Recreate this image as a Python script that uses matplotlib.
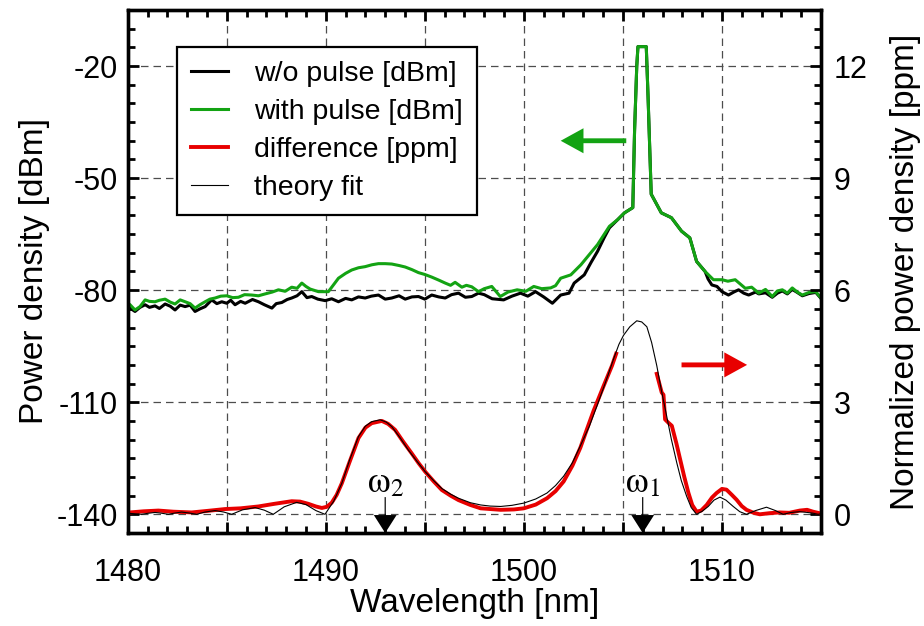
import numpy as np
import matplotlib.pyplot as plt
from matplotlib.ticker import MultipleLocator, FuncFormatter

plt.rcParams['font.family'] = ['Liberation Sans', 'DejaVu Sans']
plt.rcParams['mathtext.fontset'] = 'stix'
plt.rcParams['axes.unicode_minus'] = False

GREEN = '#13a313'
RED = '#e80000'

# spectrum without pulse [dBm]
wl_off = [1480.0, 1480.12, 1480.37, 1480.62, 1480.88, 1481.1, 1481.38, 1481.6, 1481.89, 1482.15,
          1482.39, 1482.65, 1482.9, 1483.15, 1483.4, 1483.65, 1483.91, 1484.24, 1484.5, 1484.75,
          1485.0, 1485.2, 1485.42, 1485.7, 1485.93, 1486.3, 1486.6, 1486.9, 1487.28, 1487.5,
          1487.78, 1488.05, 1488.28, 1488.55, 1488.79, 1489.05, 1489.29, 1489.6, 1489.97, 1490.3,
          1490.64, 1491.0, 1491.31, 1491.65, 1491.99, 1492.3, 1492.66, 1493.0, 1493.33, 1493.7,
          1494.01, 1494.35, 1494.68, 1495.0, 1495.35, 1495.7, 1496.03, 1496.35, 1496.7, 1497.05,
          1497.37, 1497.71, 1498.0, 1498.4, 1498.98, 1499.4, 1499.83, 1500.2, 1500.59, 1501.0,
          1501.44, 1501.86, 1502.28, 1502.54, 1503.05, 1503.4, 1503.72, 1504.05, 1504.32, 1504.74,
          1505.08, 1505.5, 1505.59, 1505.7, 1505.76, 1506.18, 1506.27, 1506.43, 1506.94, 1507.45,
          1507.96, 1508.38, 1508.72, 1509.15, 1509.3, 1509.49, 1509.75, 1510.0, 1510.33, 1510.6,
          1510.84, 1511.1, 1511.35, 1511.7, 1511.86, 1512.2, 1512.54, 1512.8, 1513.05, 1513.3,
          1513.55, 1513.8, 1514.06, 1514.4, 1514.74, 1515.0]
p_off = [-84.5, -84.8, -85.7, -84.6, -83.9, -84.6, -84.2, -84.9, -83.7, -84.3,
         -85.3, -84.0, -84.4, -84.0, -85.7, -85.0, -84.4, -82.6, -83.6, -83.1,
         -83.5, -82.7, -83.9, -83.0, -83.5, -82.5, -83.1, -83.9, -84.8, -83.6,
         -83.3, -82.5, -82.1, -81.5, -80.4, -82.0, -81.7, -82.4, -82.8, -82.3,
         -83.1, -82.2, -82.6, -81.8, -82.1, -81.6, -81.3, -82.4, -82.1, -81.5,
         -82.4, -81.8, -81.7, -82.4, -81.3, -81.8, -82.1, -81.2, -80.8, -81.9,
         -81.7, -80.8, -81.2, -82.3, -82.6, -81.6, -80.8, -81.6, -80.4, -81.8,
         -83.5, -81.3, -80.8, -78.1, -75.9, -72.5, -69.6, -66.0, -63.3, -61.1,
         -59.3, -57.9, -37.2, -20.0, -14.8, -14.8, -28.2, -54.3, -59.3, -60.6,
         -64.2, -66.0, -72.3, -75.0, -77.0, -78.6, -79.0, -80.4, -81.3, -80.5,
         -79.9, -80.8, -81.3, -80.5, -81.0, -80.7, -81.9, -80.8, -80.2, -81.0,
         -79.8, -80.6, -81.5, -80.9, -80.6, -82.2]

# spectrum with pulse [dBm]
wl_on = [1480.0, 1480.12, 1480.37, 1480.62, 1480.88, 1481.1, 1481.38, 1481.6, 1481.89, 1482.15,
         1482.39, 1482.65, 1482.9, 1483.15, 1483.4, 1483.65, 1483.91, 1484.15, 1484.41, 1484.7,
         1485.0, 1485.3, 1485.59, 1485.9, 1486.26, 1486.6, 1486.94, 1487.3, 1487.61, 1487.95,
         1488.28, 1488.55, 1488.79, 1489.0, 1489.21, 1489.63, 1490.13, 1490.4, 1490.64, 1491.0,
         1491.31, 1491.65, 1491.99, 1492.33, 1492.66, 1493.0, 1493.33, 1493.7, 1494.01, 1494.35,
         1494.68, 1495.0, 1495.35, 1495.7, 1496.03, 1496.3, 1496.53, 1496.87, 1497.1, 1497.37,
         1497.71, 1498.0, 1498.38, 1498.81, 1499.2, 1499.66, 1500.1, 1500.5, 1500.9, 1501.35,
         1501.6, 1501.86, 1502.37, 1502.88, 1503.3, 1503.72, 1504.32, 1504.74, 1505.08, 1505.5,
         1505.59, 1505.7, 1505.76, 1506.18, 1506.27, 1506.43, 1506.94, 1507.45, 1507.96, 1508.38,
         1508.72, 1509.15, 1509.57, 1510.0, 1510.3, 1510.67, 1511.18, 1511.5, 1511.86, 1512.2,
         1512.54, 1512.8, 1513.05, 1513.3, 1513.55, 1513.8, 1514.06, 1514.4, 1514.74, 1515.0]
p_on = [-83.5, -83.9, -85.3, -84.4, -82.6, -83.0, -83.1, -82.7, -82.4, -83.2,
        -83.7, -82.6, -83.1, -83.6, -84.8, -83.9, -83.1, -82.4, -82.1, -81.6,
        -81.5, -82.0, -81.9, -81.2, -81.3, -81.5, -81.0, -80.5, -79.9, -80.3,
        -79.2, -79.5, -78.1, -79.0, -79.7, -80.4, -80.4, -78.5, -76.8, -75.5,
        -74.6, -74.0, -73.7, -73.2, -72.9, -72.9, -73.0, -73.4, -73.8, -74.5,
        -75.3, -75.8, -76.5, -77.3, -78.1, -78.7, -77.9, -79.2, -78.7, -79.1,
        -80.4, -79.6, -79.0, -81.7, -80.5, -79.9, -80.3, -79.0, -79.6, -79.4,
        -78.8, -76.8, -75.9, -73.2, -70.5, -67.8, -62.9, -61.1, -59.3, -57.9,
        -37.2, -20.0, -14.8, -14.8, -28.2, -54.3, -59.3, -60.6, -64.2, -66.0,
        -72.3, -75.0, -77.2, -77.2, -77.6, -77.2, -79.5, -79.2, -80.8, -79.8,
        -81.7, -80.2, -79.9, -80.8, -79.4, -80.5, -81.3, -80.6, -80.4, -82.1]

# measured difference [ppm], gap around the probe line
wl_diff = [1480.0, 1480.12, 1480.8, 1481.55, 1482.3, 1483.23, 1484.0, 1484.91, 1485.7, 1486.6,
           1487.4, 1488.28, 1488.7, 1489.12, 1489.5, 1489.8, 1490.05, 1490.3, 1490.55, 1490.81,
           1491.2, 1491.65, 1492.0, 1492.32, 1492.83, 1493.15, 1493.5, 1493.9, 1494.34, 1494.7,
           1495.02, 1495.45, 1495.86, 1496.3, 1496.7, 1497.3, 1497.82, 1498.83, 1499.5, 1500.0,
           1500.6, 1501.17, 1501.6, 1502.01, 1502.45, 1502.85, 1503.2, 1503.52, 1504.03, 1504.45,
           1504.66, 1505.5,
           1506.71, 1506.96, 1507.05, 1507.13, 1507.3, 1507.47, 1507.7, 1507.89, 1508.1, 1508.31,
           1508.5, 1508.72, 1508.95, 1509.23, 1509.5, 1509.73, 1510.0, 1510.23, 1510.5, 1510.74,
           1511.0, 1511.24, 1511.6, 1511.91, 1512.4, 1512.92, 1513.4, 1513.93, 1514.3, 1514.6,
           1515.0]
ppm_diff = [0.03, 0.05, 0.08, 0.10, 0.07, 0.05, 0.09, 0.14, 0.16, 0.21,
            0.28, 0.35, 0.34, 0.28, 0.21, 0.17, 0.20, 0.31, 0.52, 0.83,
            1.40, 2.04, 2.32, 2.44, 2.50, 2.42, 2.26, 1.95, 1.63, 1.36,
            1.14, 0.88, 0.65, 0.50, 0.38, 0.25, 0.16, 0.12, 0.13, 0.16,
            0.26, 0.43, 0.62, 0.88, 1.30, 1.78, 2.30, 2.77, 3.44, 3.98,
            4.30, np.nan,
            3.76, 3.26, 3.20, 2.54, 2.45, 2.37, 1.90, 1.47, 1.00, 0.57,
            0.25, 0.07, 0.10, 0.25, 0.45, 0.57, 0.68, 0.66, 0.52, 0.39,
            0.22, 0.12, 0.04, 0.00, 0.03, 0.05, 0.04, 0.10, 0.12, 0.07,
            0.02]

# theory fit [ppm]
wl_fit = [1480.0, 1480.35, 1480.7, 1481.0, 1481.38, 1481.7, 1482.05, 1482.35, 1482.72, 1483.1,
          1483.48, 1483.9, 1484.41, 1484.85, 1485.25, 1485.8, 1486.43, 1486.9, 1487.35, 1487.9,
          1488.53, 1489.0, 1489.5, 1489.96, 1490.4, 1490.81, 1491.2, 1491.65, 1492.0, 1492.32,
          1492.74, 1493.05, 1493.33, 1493.75, 1494.17, 1494.6, 1495.02, 1495.45, 1495.86, 1496.3,
          1496.7, 1497.3, 1497.82, 1498.3, 1498.83, 1499.4, 1500.0, 1500.6, 1501.17, 1501.6,
          1502.01, 1502.45, 1502.85, 1503.3, 1503.69, 1504.1, 1504.53, 1504.8, 1505.03, 1505.35,
          1505.7, 1505.95, 1506.21, 1506.45, 1506.71, 1506.95, 1507.21, 1507.45, 1507.72, 1507.95,
          1508.22, 1508.45, 1508.72, 1509.0, 1509.31, 1509.6, 1509.9, 1510.2, 1510.57, 1510.9,
          1511.24, 1511.7, 1512.25, 1512.7, 1513.09, 1513.5, 1513.93, 1514.3, 1514.6, 1514.85,
          1515.0]
ppm_fit = [0.03, 0.015, 0.0, 0.025, 0.05, 0.03, 0.0, 0.03, 0.06, 0.035,
           0.0, 0.06, 0.10, 0.06, 0.0, 0.12, 0.18, 0.11, 0.0, 0.20,
           0.32, 0.26, 0.10, 0.0, 0.35, 0.83, 1.45, 2.08, 2.36, 2.48,
           2.53, 2.47, 2.35, 2.05, 1.72, 1.42, 1.14, 0.90, 0.69, 0.54,
           0.43, 0.31, 0.25, 0.22, 0.21, 0.24, 0.30, 0.41, 0.57, 0.77,
           1.02, 1.38, 1.83, 2.35, 2.90, 3.50, 4.16, 4.55, 4.79, 5.02,
           5.18, 5.15, 5.02, 4.60, 3.98, 3.30, 2.63, 2.00, 1.38, 0.90,
           0.48, 0.18, 0.0, 0.08, 0.21, 0.38, 0.46, 0.38, 0.21, 0.07,
           0.0, 0.10, 0.19, 0.10, 0.0, 0.05, 0.07, 0.05, 0.03, 0.0,
           0.01]

# marked frequencies (wavelength of pump / probe)
omega_labels = [r'$\mathrm{\omega}_2$', r'$\mathrm{\omega}_1$']
omega_wl = [1493.0, 1506.0]

fig = plt.figure(figsize=(9.24, 6.26), dpi=100)
ax = fig.add_axes([0.1382, 0.1486, 0.7503, 0.8354])
ax2 = ax.twinx()

l1, = ax.plot(wl_off, p_off, color='k', lw=2.2, label='w/o pulse [dBm]')
l2, = ax.plot(wl_on, p_on, color=GREEN, lw=2.2, label='with pulse [dBm]')
l3, = ax2.plot(wl_diff, ppm_diff, color=RED, lw=2.8, label='difference [ppm]')
l4, = ax2.plot(wl_fit, ppm_fit, color='k', lw=0.8, label='theory fit')

ax.set_xlim(1480, 1515)
ax.set_ylim(-145, -5)
ax2.set_ylim(-0.5, 13.5)

ax.xaxis.set_major_locator(MultipleLocator(5))
ax.xaxis.set_minor_locator(MultipleLocator(1))
ax.xaxis.set_major_formatter(FuncFormatter(lambda v, p: '%d' % v if v % 10 == 0 else ''))
ax.set_yticks([-140, -110, -80, -50, -20])
ax.yaxis.set_minor_locator(MultipleLocator(5))
ax2.set_yticks([0, 3, 6, 9, 12])
ax2.yaxis.set_minor_locator(MultipleLocator(0.5))

ax.grid(True, which='major', ls=(0, (6, 4)), color='0.3', lw=0.9)
ax.set_axisbelow(True)

ax.tick_params(which='both', direction='in', top=True, right=False, width=2, labelsize=22)
ax.tick_params(which='major', length=8)
ax.tick_params(which='minor', length=5)
ax.tick_params(axis='x', pad=18)
ax.tick_params(axis='y', pad=7)
ax2.tick_params(which='both', direction='in', width=2, labelsize=22, pad=9)
ax2.tick_params(which='major', length=8)
ax2.tick_params(which='minor', length=5)
for a in (ax, ax2):
    for s in a.spines.values():
        s.set_linewidth(2.4)

ax.set_xlabel('Wavelength [nm]', fontsize=24, labelpad=0)
ax.set_ylabel('Power density [dBm]', fontsize=24, labelpad=5)
ax2.set_ylabel('Normalized power density [ppm]', fontsize=24, labelpad=16)

# direction arrows
ax.arrow(1505.17, -40, -3.31, 0, width=1.3, head_width=6.7, head_length=1.15,
         length_includes_head=True, color=GREEN, lw=0)
ax2.arrow(1507.96, 4.0, 3.31, 0, width=0.13, head_width=0.67, head_length=1.15,
          length_includes_head=True, color=RED, lw=0)

for lab, w in zip(omega_labels, omega_wl):
    ax.text(w, -134.2, lab, fontsize=26, ha='center', va='baseline')
    ax.arrow(w, -135.4, 0, -9.6, width=0.06, head_width=1.15, head_length=4.8,
             length_includes_head=True, color='k', lw=0, clip_on=False)

leg = ax2.legend([l1, l2, l3, l4], [l.get_label() for l in (l1, l2, l3, l4)],
                 loc='upper left', bbox_to_anchor=(0.071, 0.929), fontsize=20.5,
                 fancybox=False, framealpha=1, edgecolor='k', borderpad=0.5,
                 labelspacing=0.42, handlelength=1.3, handletextpad=0.9, borderaxespad=0)
leg.get_frame().set_linewidth(1.6)

fig.savefig('out.png', dpi=100)
